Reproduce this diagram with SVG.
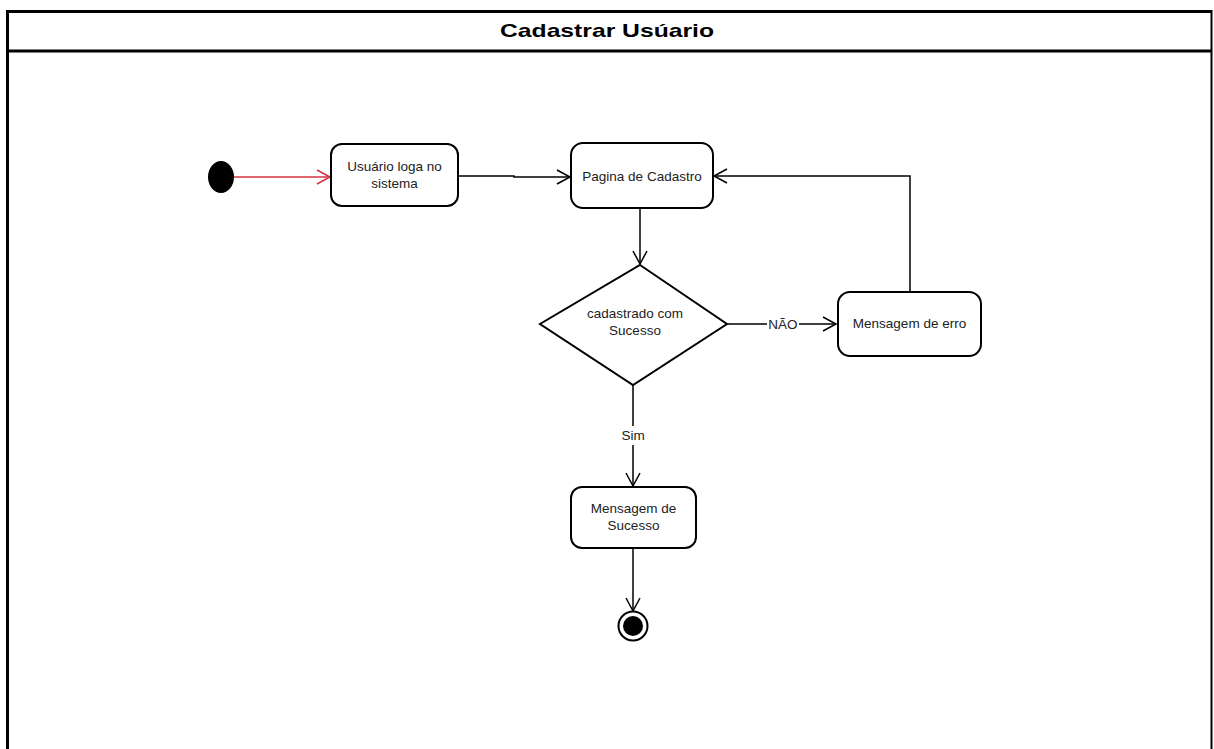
<svg xmlns="http://www.w3.org/2000/svg" width="1214" height="749" viewBox="0 0 1214 749">
  <defs>
    <marker id="open" markerWidth="16" markerHeight="16" refX="14" refY="8" orient="auto" markerUnits="userSpaceOnUse">
      <path d="M1,1 L14,8 L1,15" fill="none" stroke="#000" stroke-width="1.5"/>
    </marker>
    <marker id="openRed" markerWidth="16" markerHeight="16" refX="14" refY="8" orient="auto" markerUnits="userSpaceOnUse">
      <path d="M1,1 L14,8 L1,15" fill="none" stroke="#d0343f" stroke-width="1.5"/>
    </marker>
  </defs>
  <style>
    .node { fill: #fff; stroke: #000; stroke-width: 2; }
    .lbl { font-family: "Liberation Sans", Arial, sans-serif; font-size: 13.5px; fill: #222; text-anchor: middle; }
    .edge { fill: none; stroke: #000; stroke-width: 1.5; }
    .title { font-family: "Liberation Sans", Arial, sans-serif; font-size: 19px; font-weight: bold; fill: #000; text-anchor: middle; }
  </style>

  <rect width="1214" height="749" fill="#fff"/>

  <!-- frame -->
  <g id="frame">
    <path d="M7.5,760 V11.5 H1211" fill="none" stroke="#000" stroke-width="3"/>
    <line x1="1211.5" y1="10" x2="1211.5" y2="760" stroke="#000" stroke-width="2"/>
    <line x1="7" y1="51" x2="1212" y2="51" stroke="#000" stroke-width="3"/>
    <text class="title" x="607" y="37" textLength="214" lengthAdjust="spacingAndGlyphs">Cadastrar Usúario</text>
  </g>

  <!-- connectors -->
  <g id="connectors">
    <line x1="234" y1="177" x2="330" y2="177" stroke="#d0343f" stroke-width="1.5" marker-end="url(#openRed)"/>
    <path class="edge" d="M458,176 H514 V177 H570" marker-end="url(#open)"/>
    <line class="edge" x1="640" y1="208" x2="640" y2="264" marker-end="url(#open)"/>
    <path class="edge" d="M727,324 H767 M799,324 H836" marker-end="url(#open)"/>
    <text class="lbl" x="783" y="329">NÃO</text>
    <path class="edge" d="M910,292 V176 H714" marker-end="url(#open)"/>
    <path class="edge" d="M633,385 V426 M633,445 V486" marker-end="url(#open)"/>
    <text class="lbl" x="633" y="440">Sim</text>
    <line class="edge" x1="633" y1="548" x2="633" y2="611" marker-end="url(#open)"/>
  </g>

  <!-- initial node -->
  <g id="start">
    <ellipse cx="221" cy="177" rx="13" ry="16" fill="#000"/>
  </g>

  <g id="usuario-loga">
    <rect class="node" x="331" y="144" width="127" height="62" rx="11"/>
    <text class="lbl" x="394.5" y="171">Usuário loga no</text>
    <text class="lbl" x="394.5" y="188">sistema</text>
  </g>

  <g id="pagina-cadastro">
    <rect class="node" x="571" y="143" width="142" height="65" rx="12"/>
    <text class="lbl" x="642" y="181">Pagina de Cadastro</text>
  </g>

  <g id="decisao">
    <polygon class="node" points="640,265 727,324 633,385 540,324"/>
    <text class="lbl" x="635" y="318">cadastrado com</text>
    <text class="lbl" x="635" y="335">Sucesso</text>
  </g>

  <g id="mensagem-erro">
    <rect class="node" x="838" y="292" width="143" height="64" rx="12"/>
    <text class="lbl" x="909.5" y="328">Mensagem de erro</text>
  </g>

  <g id="mensagem-sucesso">
    <rect class="node" x="571" y="487" width="125" height="61" rx="11"/>
    <text class="lbl" x="633.5" y="513">Mensagem de</text>
    <text class="lbl" x="633.5" y="530">Sucesso</text>
  </g>

  <!-- final node -->
  <g id="end">
    <circle cx="633" cy="626" r="14.5" fill="#fff" stroke="#000" stroke-width="2"/>
    <circle cx="633" cy="626" r="10" fill="#000"/>
  </g>
</svg>
